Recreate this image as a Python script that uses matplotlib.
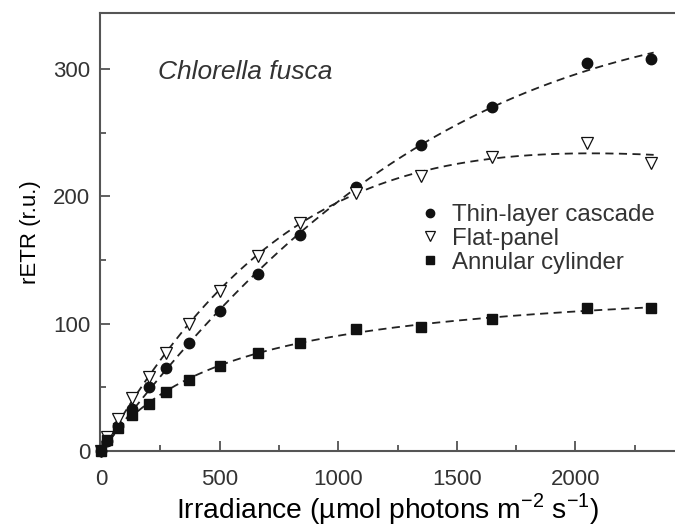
import numpy as np
import matplotlib
matplotlib.use("Agg")
import matplotlib.pyplot as plt
from matplotlib.ticker import MultipleLocator

plt.rcParams['font.family'] = ['Liberation Sans', 'DejaVu Sans']
plt.rcParams['text.color'] = '#333333'
plt.rcParams['mathtext.fontset'] = 'custom'
plt.rcParams['mathtext.rm'] = 'Liberation Sans'

# irradiance steps (umol photons m-2 s-1)
irradiance = [0, 25, 70, 130, 200, 275, 370, 500, 660, 840, 1075, 1350, 1650, 2050, 2320]

# rETR
thin_layer = [0, 8, 20, 33, 50, 65, 85, 110, 139, 170, 207, 240, 270, 305, 308]
flat_panel = [0, 11, 25, 42, 58, 77, 100, 126, 153, 179, 203, 216, 231, 242, 226]
annular = [0, 9, 18, 28, 37, 46, 56, 67, 77, 85, 96, 97, 104, 112, 112]

labels = ['Thin-layer cascade', 'Flat-panel', 'Annular cylinder']


def ep_fit(E, P):
    """ Eilers-Peeters fit  P = E / (a E^2 + b E + c), least squares on P """
    E = np.asarray(E, float)
    P = np.asarray(P, float)
    m = E > 0
    # linear start on E/P
    A = np.vstack([E[m] ** 2, E[m], np.ones(m.sum())]).T
    p = np.linalg.lstsq(A, E[m] / P[m], rcond=None)[0]
    # a few Gauss-Newton steps
    for _ in range(30):
        d = p[0] * E[m] ** 2 + p[1] * E[m] + p[2]
        f = E[m] / d
        J = -np.vstack([E[m] ** 3, E[m] ** 2, E[m]]).T / d[:, None] ** 2
        step = np.linalg.lstsq(J, P[m] - f, rcond=None)[0]
        p = p + step
    return p


fig = plt.figure(figsize=(6.75, 5.26), dpi=100)
ax = fig.add_axes([100 / 675, 1 - 451 / 526, 575 / 675, 438 / 526])

line_kw = dict(color='#222222', ls=(0, (4.5, 3)), lw=1.3, zorder=1)
Efit = np.linspace(0, 2330, 300)

series = [(thin_layer, dict(marker='o', color='#111111', mfc='#111111', ms=7.5)),
          (flat_panel, dict(marker='v', color='#111111', mfc='white', mew=0.9, ms=8.5)),
          (annular, dict(marker='s', color='#111111', mfc='#111111', ms=7.5))]

handles = []
for vals, mk in series:
    a, b, c = ep_fit(irradiance, vals)
    ax.plot(Efit, Efit / (a * Efit ** 2 + b * Efit + c), **line_kw)
    h, = ax.plot(irradiance, vals, ls='none', clip_on=False, zorder=3, **mk)
    handles.append(h)

ax.set_xlim(-5, 2420)
ax.set_ylim(0, 344)
ax.xaxis.set_major_locator(MultipleLocator(500))
ax.xaxis.set_minor_locator(MultipleLocator(250))
ax.yaxis.set_major_locator(MultipleLocator(100))
ax.yaxis.set_minor_locator(MultipleLocator(50))
ax.tick_params(which='both', direction='in', color='#444444', labelcolor='#333333',
               labelsize=16)
ax.tick_params(which='major', length=7, width=1.2, pad=7)
ax.tick_params(which='minor', length=4, width=1.2)
ax.tick_params(axis='x', pad=13)

for s in ['left', 'bottom', 'top']:
    ax.spines[s].set_color('#555555')
    ax.spines[s].set_linewidth(1.5)
ax.spines['right'].set_visible(False)

ax.set_xlabel('Irradiance (µmol photons m$^{-2}$ s$^{-1}$)', fontsize=20.3, labelpad=1)
ax.set_ylabel('rETR (r.u.)', fontsize=16, labelpad=9)

ax.text(0.1, 0.865, 'Chlorella fusca', style='italic', fontsize=19,
        transform=ax.transAxes, ha='left', va='center')

leg = ax.legend(handles, labels, loc='upper left', bbox_to_anchor=(0.557, 0.564),
                frameon=False, fontsize=17.3, handlelength=0.8, handletextpad=0.5,
                labelspacing=0.08, borderpad=0, borderaxespad=0, markerscale=0.8)

fig.savefig('out.png', dpi=100)
